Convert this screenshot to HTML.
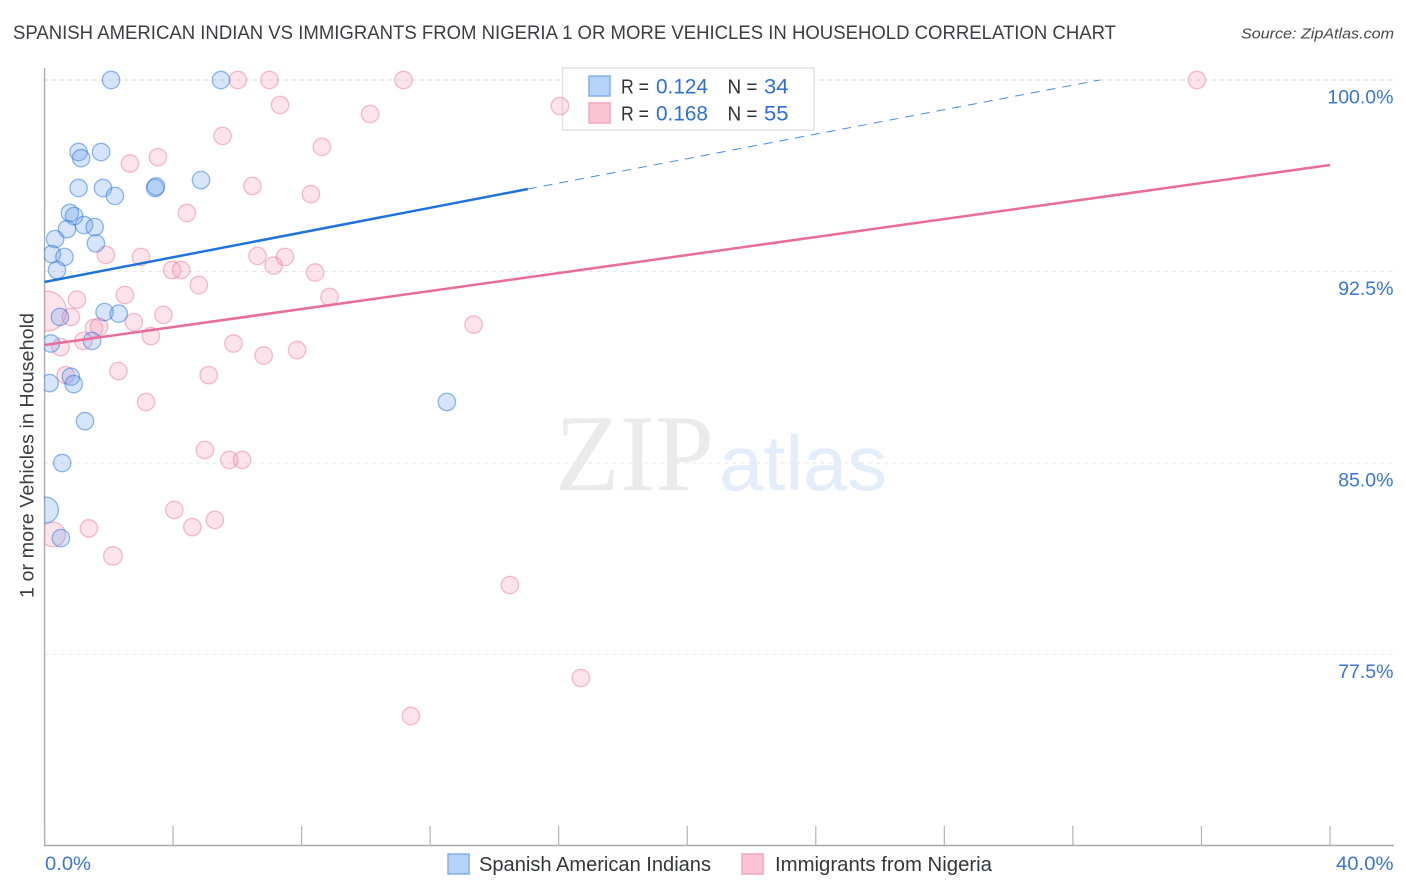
<!DOCTYPE html>
<html>
<head>
<meta charset="utf-8">
<title>Spanish American Indian vs Immigrants from Nigeria Correlation Chart</title>
<style>
html,body{margin:0;padding:0;background:#fff;width:1406px;height:892px;overflow:hidden}
svg{display:block}
text{font-family:"Liberation Sans",sans-serif}
</style>
</head>
<body>
<svg id="chart" xmlns="http://www.w3.org/2000/svg" width="1406" height="892" viewBox="0 0 1406 892">
  <text x="13" y="39" font-size="19.5" fill="#3a3e44" textLength="1103" lengthAdjust="spacingAndGlyphs">SPANISH AMERICAN INDIAN VS IMMIGRANTS FROM NIGERIA 1 OR MORE VEHICLES IN HOUSEHOLD CORRELATION CHART</text>
  <text x="1394" y="38.500" font-size="15" font-style="italic" fill="#44484d" text-anchor="end" textLength="153" lengthAdjust="spacingAndGlyphs">Source: ZipAtlas.com</text>

  <g id="grid"></g>

  <g>
    <text x="555" y="490" font-size="109" fill="#ebebeb" style="font-family:'Liberation Serif',serif" textLength="159" lengthAdjust="spacingAndGlyphs">ZIP</text>
    <text x="719" y="490" font-size="78" fill="#e4edfa" textLength="168" lengthAdjust="spacingAndGlyphs">atlas</text>
  </g>

  <g>
    <rect x="562.500" y="68" width="251.500" height="62" fill="#fff" stroke="#e3e3e3" stroke-width="1.500"/>
    <rect x="589" y="76" width="21" height="20" fill="#b5d2f8" stroke="#80b0ea" stroke-width="1.500"/>
    <rect x="589" y="103" width="21" height="20" fill="#fcc5d6" stroke="#f4a6bf" stroke-width="1.500"/>
    <text x="621" y="93.500" font-size="20" fill="#333" textLength="28" lengthAdjust="spacingAndGlyphs">R =</text>
    <text x="656" y="93.500" font-size="21" fill="#2f6fd0" textLength="52" lengthAdjust="spacingAndGlyphs">0.124</text>
    <text x="727.500" y="93.500" font-size="20" fill="#333" textLength="30" lengthAdjust="spacingAndGlyphs">N =</text>
    <text x="764" y="93.500" font-size="21" fill="#2f6fd0" textLength="24.500" lengthAdjust="spacingAndGlyphs">34</text>
    <text x="621" y="120.500" font-size="20" fill="#333" textLength="28" lengthAdjust="spacingAndGlyphs">R =</text>
    <text x="656" y="120.500" font-size="21" fill="#2f6fd0" textLength="52" lengthAdjust="spacingAndGlyphs">0.168</text>
    <text x="727.500" y="120.500" font-size="20" fill="#333" textLength="30" lengthAdjust="spacingAndGlyphs">N =</text>
    <text x="764" y="120.500" font-size="21" fill="#2f6fd0" textLength="24.500" lengthAdjust="spacingAndGlyphs">55</text>
  </g>

  <g id="axes"></g>
  <g id="pink-points"></g>
  <g id="blue-points"></g>
  <rect x="0" y="60" width="43.800" height="786" fill="#fff"/>
  <g id="trend-lines"></g>

  <text transform="translate(33.500,598) rotate(-90)" x="0" y="0" font-size="19.500" fill="#3a3e44" textLength="285" lengthAdjust="spacingAndGlyphs">1 or more Vehicles in Household</text>

  <g>
    <rect x="448" y="854" width="21" height="20" fill="#b5d2f8" stroke="#80b0ea" stroke-width="1.500"/>
    <text x="479" y="871" font-size="20" fill="#33373c" textLength="232" lengthAdjust="spacingAndGlyphs">Spanish American Indians</text>
    <rect x="742" y="854" width="21" height="20" fill="#fcc5d6" stroke="#f4a6bf" stroke-width="1.500"/>
    <text x="775" y="871" font-size="20" fill="#33373c" textLength="217" lengthAdjust="spacingAndGlyphs">Immigrants from Nigeria</text>
  </g>
</svg>
<script>
const xTicks = [0, 4, 8, 12, 16, 20, 24, 28, 32, 36, 40];
const xTickLabels = ["0.0%", "40.0%"];
const yTicks = [100, 92.5, 85, 77.5];
const yTickLabels = ["100.0%", "92.5%", "85.0%", "77.5%"];

const blueX = [2.07,5.49,1.06,1.14,1.76,1.06,1.82,2.19,3.44,3.47,4.87,0.79,0.92,1.23,1.56,0.70,0.33,1.60,0.23,0.62,0.39,1.87,2.31,0.48,1.48,0.20,0.82,0.91,0.16,1.26,0.55,0.03,0.51,12.52];
const blueY = [100,100,97.18,96.94,97.18,95.77,95.77,95.46,95.77,95.83,96.08,94.79,94.67,94.32,94.24,94.16,93.77,93.60,93.18,93.07,92.56,90.91,90.85,90.72,89.78,89.68,88.38,88.09,88.13,86.64,85.00,83.16,82.06,87.39];
const blueWeight = [1,1,1,1,1,1,1,1,1,1,1,1,1,1,1,1,1,1,1,1,1,1,1,1,1,1,1,1,1,1,1,2.23,1,1];

const pinkX = [6.02,7.00,11.17,35.86,7.33,10.13,16.04,5.54,8.63,2.66,3.53,6.47,8.29,4.43,1.91,3.00,6.63,7.48,7.13,3.97,4.25,8.42,4.80,2.50,1.01,8.87,3.70,0.06,0.82,13.35,2.78,1.54,1.70,3.31,1.21,5.88,0.50,7.86,6.82,2.30,0.66,5.11,3.16,4.99,5.75,6.15,4.04,5.30,4.60,1.38,0.27,2.13,14.48,16.69,11.40];
const pinkY = [100,100,100,100,99.02,98.67,98.98,97.81,97.38,96.73,96.98,95.85,95.53,94.79,93.15,93.07,93.11,93.07,92.73,92.56,92.56,92.46,91.97,91.58,91.40,91.50,90.80,90.95,90.72,90.42,90.52,90.29,90.33,89.97,89.78,89.68,89.54,89.42,89.21,88.60,88.44,88.44,87.39,85.51,85.12,85.12,83.16,82.77,82.49,82.44,82.20,81.36,80.22,76.58,75.09];
const pinkWeight = [1,1,1,1,1,1,1,1,1,1,1,1,1,1,1,1,1,1,1,1,1,1,1,1,1,1,1,5.3,1,1,1,1,1,1,1,1,1,1,1,1,1,1,1,1,1,1,1,1,1,1,2,1.15,1,1,1];

const blueTrendX = [0, 15.04];
const blueTrendY = [92.09, 95.73];
const blueDashX = [15.04, 32.84];
const blueDashY = [95.73, 100];
const pinkTrendX = [0, 40];
const pinkTrendY = [89.62, 96.67];

const SVG_NS = "http://www.w3.org/2000/svg";
const sx = v => 44.5 + v * (1330 - 44.5) / 40;
const sy = v => 80 + (100 - v) * (654.5 - 80) / 22.5;
const sr = w => 8.7 * Math.sqrt(w);

function mk(tag, parent, attrs, text) {
  const el = document.createElementNS(SVG_NS, tag);
  for (const k in attrs) el.setAttribute(k, attrs[k]);
  if (text !== undefined) el.textContent = text;
  parent.appendChild(el);
  return el;
}

const grid = document.getElementById("grid");
yTicks.forEach((t) => {
  const line = mk("line", grid, {x1: 44.5, x2: 1394, y1: sy(t), y2: sy(t), stroke: t === 100 ? "#d9d5e0" : "#e6e6ea", "stroke-width": 1, "stroke-dasharray": "4 4"});
  
  
});

const axes = document.getElementById("axes");
const yAxis = mk("line", axes, {x1: 44.5, x2: 44.5, y1: 68, y2: 846, stroke: "#aaaaaa", "stroke-width": 1.5});


const xAxis = mk("line", axes, {x1: 44, x2: 1394, y1: 845.5, y2: 845.5, stroke: "#aaaaaa", "stroke-width": 1.5});


xTicks.forEach((t) => {
  const tick = mk("line", axes, {x1: sx(t), x2: sx(t), y1: 826, y2: 845.5, stroke: "#b4b4b4", "stroke-width": 1.2});
  
  
});
yTicks.forEach((t, i) => {
  const label = mk("text", axes, {x: 1393.5, y: sy(t) + 23.5, "font-size": 19.5, fill: "#3a74d4", "text-anchor": "end"}, yTickLabels[i]);
  
  
});
const xLabelStart = mk("text", axes, {x: 45, y: 870, "font-size": 19.5, fill: "#3a74d4", textLength: 46, lengthAdjust: "spacingAndGlyphs"}, xTickLabels[0]);


const xLabelEnd = mk("text", axes, {x: 1336, y: 870, "font-size": 19.5, fill: "#3a74d4", textLength: 57.5, lengthAdjust: "spacingAndGlyphs"}, xTickLabels[1]);



const pinkLayer = document.getElementById("pink-points");
pinkX.forEach((x, i) => {
  const c = mk("circle", pinkLayer, {cx: sx(x), cy: sy(pinkY[i]), r: sr(pinkWeight[i]), fill: "rgba(244,130,165,0.22)", stroke: "rgba(233,110,150,0.45)", "stroke-width": 1.3});
  
  
});

const blueLayer = document.getElementById("blue-points");
blueX.forEach((x, i) => {
  const c = mk("circle", blueLayer, {cx: sx(x), cy: sy(blueY[i]), r: sr(blueWeight[i]), fill: "rgba(90,150,235,0.25)", stroke: "rgba(40,115,220,0.5)", "stroke-width": 1.3});
  
  
});

const trends = document.getElementById("trend-lines");
const blueDash = mk("line", trends, {x1: sx(blueDashX[0]), y1: sy(blueDashY[0]), x2: sx(blueDashX[1]), y2: sy(blueDashY[1]), stroke: "#2a78d8", "stroke-width": 1, "stroke-dasharray": "9 7", opacity: 0.85});


const blueSolid = mk("line", trends, {x1: sx(blueTrendX[0]), y1: sy(blueTrendY[0]), x2: sx(blueTrendX[1]), y2: sy(blueTrendY[1]), stroke: "#1f74db", "stroke-width": 2.5});


const pinkSolid = mk("line", trends, {x1: sx(pinkTrendX[0]), y1: sy(pinkTrendY[0]), x2: sx(pinkTrendX[1]), y2: sy(pinkTrendY[1]), stroke: "#ea6c9c", "stroke-width": 2.5});


</script>
</body>
</html>
